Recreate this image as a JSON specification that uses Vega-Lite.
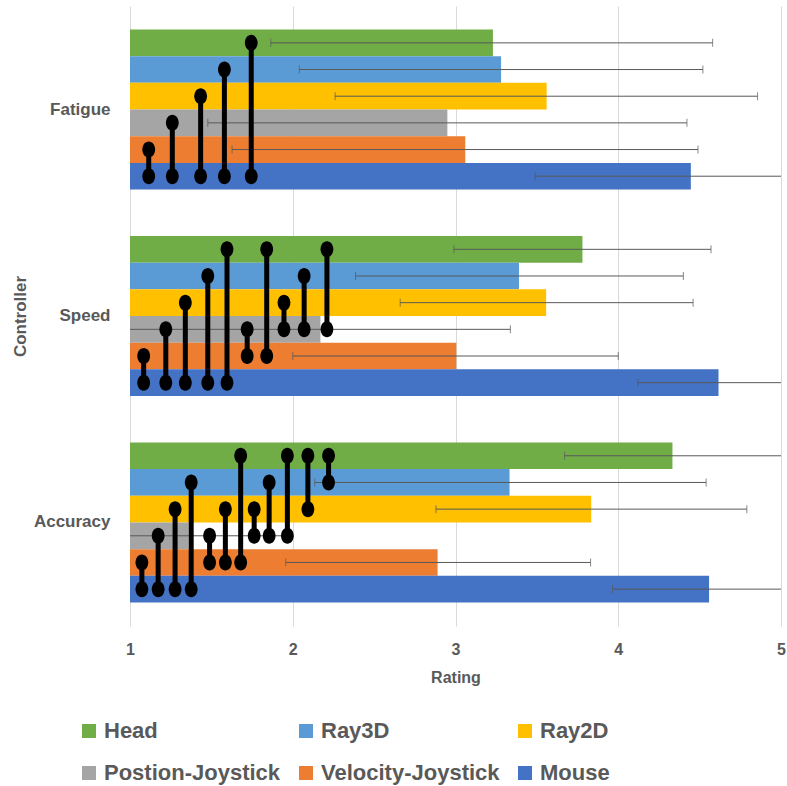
{
  "$schema": "https://vega.github.io/schema/vega-lite/v6.json",
  "autosize": {"type": "none"},
  "width": 651,
  "height": 620,
  "padding": {"left": 130, "top": 6, "right": 6, "bottom": 160},
  "background": "white",
  "config": {
    "view": {"stroke": null},
    "font": "Liberation Sans",
    "axis": {
      "labelFont": "Liberation Sans",
      "titleFont": "Liberation Sans",
      "labelColor": "#595959",
      "titleColor": "#595959",
      "labelFontWeight": "bold",
      "titleFontWeight": "bold",
      "domain": false,
      "ticks": false
    }
  },
  "datasets": {
    "bars": [
      {"Controller": "Fatigue", "Series": "Head", "Rating": 3.23, "Lo": 1.865, "Hi": 4.58},
      {"Controller": "Fatigue", "Series": "Ray3D", "Rating": 3.28, "Lo": 2.04, "Hi": 4.52},
      {"Controller": "Fatigue", "Series": "Ray2D", "Rating": 3.56, "Lo": 2.26, "Hi": 4.856},
      {"Controller": "Fatigue", "Series": "Postion-Joystick", "Rating": 2.95, "Lo": 1.478, "Hi": 4.422},
      {"Controller": "Fatigue", "Series": "Velocity-Joystick", "Rating": 3.06, "Lo": 1.627, "Hi": 4.49},
      {"Controller": "Fatigue", "Series": "Mouse", "Rating": 4.446, "Lo": 3.49, "Hi": 5.4},
      {"Controller": "Speed", "Series": "Head", "Rating": 3.78, "Lo": 2.99, "Hi": 4.57},
      {"Controller": "Speed", "Series": "Ray3D", "Rating": 3.39, "Lo": 2.386, "Hi": 4.4},
      {"Controller": "Speed", "Series": "Ray2D", "Rating": 3.557, "Lo": 2.66, "Hi": 4.46},
      {"Controller": "Speed", "Series": "Postion-Joystick", "Rating": 2.17, "Lo": 0.95, "Hi": 3.337},
      {"Controller": "Speed", "Series": "Velocity-Joystick", "Rating": 3.005, "Lo": 2.0, "Hi": 4.0},
      {"Controller": "Speed", "Series": "Mouse", "Rating": 4.616, "Lo": 4.12, "Hi": 5.1},
      {"Controller": "Accuracy", "Series": "Head", "Rating": 4.333, "Lo": 3.67, "Hi": 5.02},
      {"Controller": "Accuracy", "Series": "Ray3D", "Rating": 3.332, "Lo": 2.135, "Hi": 4.54},
      {"Controller": "Accuracy", "Series": "Ray2D", "Rating": 3.834, "Lo": 2.88, "Hi": 4.79},
      {"Controller": "Accuracy", "Series": "Postion-Joystick", "Rating": 1.36, "Lo": 0.74, "Hi": 1.98},
      {"Controller": "Accuracy", "Series": "Velocity-Joystick", "Rating": 2.89, "Lo": 1.957, "Hi": 3.83},
      {"Controller": "Accuracy", "Series": "Mouse", "Rating": 4.558, "Lo": 3.965, "Hi": 5.15}
    ],
    "brackets": [
      {"Controller": "Fatigue", "Pair": "F1", "Series": "Mouse", "Rating": 1.115},
      {"Controller": "Fatigue", "Pair": "F1", "Series": "Velocity-Joystick", "Rating": 1.115},
      {"Controller": "Fatigue", "Pair": "F2", "Series": "Mouse", "Rating": 1.26},
      {"Controller": "Fatigue", "Pair": "F2", "Series": "Postion-Joystick", "Rating": 1.26},
      {"Controller": "Fatigue", "Pair": "F3", "Series": "Mouse", "Rating": 1.434},
      {"Controller": "Fatigue", "Pair": "F3", "Series": "Ray2D", "Rating": 1.434},
      {"Controller": "Fatigue", "Pair": "F4", "Series": "Mouse", "Rating": 1.58},
      {"Controller": "Fatigue", "Pair": "F4", "Series": "Ray3D", "Rating": 1.58},
      {"Controller": "Fatigue", "Pair": "F5", "Series": "Mouse", "Rating": 1.745},
      {"Controller": "Fatigue", "Pair": "F5", "Series": "Head", "Rating": 1.745},
      {"Controller": "Speed", "Pair": "S1", "Series": "Mouse", "Rating": 1.084},
      {"Controller": "Speed", "Pair": "S1", "Series": "Velocity-Joystick", "Rating": 1.084},
      {"Controller": "Speed", "Pair": "S2", "Series": "Mouse", "Rating": 1.22},
      {"Controller": "Speed", "Pair": "S2", "Series": "Postion-Joystick", "Rating": 1.22},
      {"Controller": "Speed", "Pair": "S3", "Series": "Mouse", "Rating": 1.34},
      {"Controller": "Speed", "Pair": "S3", "Series": "Ray2D", "Rating": 1.34},
      {"Controller": "Speed", "Pair": "S4", "Series": "Mouse", "Rating": 1.478},
      {"Controller": "Speed", "Pair": "S4", "Series": "Ray3D", "Rating": 1.478},
      {"Controller": "Speed", "Pair": "S5", "Series": "Mouse", "Rating": 1.596},
      {"Controller": "Speed", "Pair": "S5", "Series": "Head", "Rating": 1.596},
      {"Controller": "Speed", "Pair": "S6", "Series": "Velocity-Joystick", "Rating": 1.72},
      {"Controller": "Speed", "Pair": "S6", "Series": "Postion-Joystick", "Rating": 1.72},
      {"Controller": "Speed", "Pair": "S7", "Series": "Velocity-Joystick", "Rating": 1.84},
      {"Controller": "Speed", "Pair": "S7", "Series": "Head", "Rating": 1.84},
      {"Controller": "Speed", "Pair": "S8", "Series": "Postion-Joystick", "Rating": 1.946},
      {"Controller": "Speed", "Pair": "S8", "Series": "Ray2D", "Rating": 1.946},
      {"Controller": "Speed", "Pair": "S9", "Series": "Postion-Joystick", "Rating": 2.07},
      {"Controller": "Speed", "Pair": "S9", "Series": "Ray3D", "Rating": 2.07},
      {"Controller": "Speed", "Pair": "S10", "Series": "Postion-Joystick", "Rating": 2.21},
      {"Controller": "Speed", "Pair": "S10", "Series": "Head", "Rating": 2.21},
      {"Controller": "Accuracy", "Pair": "A1", "Series": "Mouse", "Rating": 1.073},
      {"Controller": "Accuracy", "Pair": "A1", "Series": "Velocity-Joystick", "Rating": 1.073},
      {"Controller": "Accuracy", "Pair": "A2", "Series": "Mouse", "Rating": 1.173},
      {"Controller": "Accuracy", "Pair": "A2", "Series": "Postion-Joystick", "Rating": 1.173},
      {"Controller": "Accuracy", "Pair": "A3", "Series": "Mouse", "Rating": 1.277},
      {"Controller": "Accuracy", "Pair": "A3", "Series": "Ray2D", "Rating": 1.277},
      {"Controller": "Accuracy", "Pair": "A4", "Series": "Mouse", "Rating": 1.376},
      {"Controller": "Accuracy", "Pair": "A4", "Series": "Ray3D", "Rating": 1.376},
      {"Controller": "Accuracy", "Pair": "A5", "Series": "Velocity-Joystick", "Rating": 1.489},
      {"Controller": "Accuracy", "Pair": "A5", "Series": "Postion-Joystick", "Rating": 1.489},
      {"Controller": "Accuracy", "Pair": "A6", "Series": "Velocity-Joystick", "Rating": 1.586},
      {"Controller": "Accuracy", "Pair": "A6", "Series": "Ray2D", "Rating": 1.586},
      {"Controller": "Accuracy", "Pair": "A7", "Series": "Velocity-Joystick", "Rating": 1.68},
      {"Controller": "Accuracy", "Pair": "A7", "Series": "Head", "Rating": 1.68},
      {"Controller": "Accuracy", "Pair": "A8", "Series": "Postion-Joystick", "Rating": 1.763},
      {"Controller": "Accuracy", "Pair": "A8", "Series": "Ray2D", "Rating": 1.763},
      {"Controller": "Accuracy", "Pair": "A9", "Series": "Postion-Joystick", "Rating": 1.855},
      {"Controller": "Accuracy", "Pair": "A9", "Series": "Ray3D", "Rating": 1.855},
      {"Controller": "Accuracy", "Pair": "A10", "Series": "Postion-Joystick", "Rating": 1.967},
      {"Controller": "Accuracy", "Pair": "A10", "Series": "Head", "Rating": 1.967},
      {"Controller": "Accuracy", "Pair": "A11", "Series": "Ray2D", "Rating": 2.093},
      {"Controller": "Accuracy", "Pair": "A11", "Series": "Head", "Rating": 2.093},
      {"Controller": "Accuracy", "Pair": "A12", "Series": "Ray3D", "Rating": 2.22},
      {"Controller": "Accuracy", "Pair": "A12", "Series": "Head", "Rating": 2.22}
    ]
  },
  "encoding": {
    "y": {
      "field": "Controller",
      "type": "nominal",
      "scale": {"domain": ["Fatigue", "Speed", "Accuracy"], "paddingInner": 0.225, "paddingOuter": 0.114},
      "axis": {"title": "Controller", "labelFontSize": 17, "titleFontSize": 17, "labelPadding": 20, "titlePadding": 4}
    },
    "yOffset": {
      "field": "Series",
      "type": "nominal",
      "scale": {"domain": ["Head", "Ray3D", "Ray2D", "Postion-Joystick", "Velocity-Joystick", "Mouse"], "paddingInner": 0, "paddingOuter": 0}
    }
  },
  "layer": [
    {
      "data": {"name": "bars"},
      "mark": {"type": "bar", "clip": true},
      "encoding": {
        "x": {
          "field": "Rating",
          "type": "quantitative",
          "scale": {"domain": [1, 5], "zero": false, "nice": false},
          "axis": {"title": "Rating", "values": [1, 2, 3, 4, 5], "format": "d", "labelFlush": false, "grid": true, "gridColor": "#d9d9d9", "labelFontSize": 16, "titleFontSize": 16, "labelPadding": 15, "titlePadding": 12}
        },
        "color": {
          "field": "Series",
          "type": "nominal",
          "scale": {
            "domain": ["Head", "Ray3D", "Ray2D", "Postion-Joystick", "Velocity-Joystick", "Mouse"],
            "range": ["#70AD47", "#5B9BD5", "#FFC000", "#A5A5A5", "#ED7D31", "#4472C4"]
          },
          "legend": {
            "title": null,
            "orient": "none",
            "legendX": -52,
            "legendY": 714,
            "direction": "horizontal",
            "columns": 3,
            "columnPadding": 14,
            "rowPadding": 20,
            "padding": 0,
            "symbolType": "square",
            "symbolSize": 196,
            "symbolStrokeWidth": 0,
            "labelFont": "Liberation Sans",
            "labelFontSize": 22,
            "labelFontWeight": "bold",
            "labelColor": "#595959",
            "labelOffset": 4,
            "labelLimit": 300
          }
        }
      }
    },
    {
      "data": {"name": "bars"},
      "mark": {"type": "rule", "clip": true, "color": "#595959", "strokeWidth": 1},
      "encoding": {
        "x": {"field": "Lo", "type": "quantitative"},
        "x2": {"field": "Hi"}
      }
    },
    {
      "data": {"name": "bars"},
      "mark": {"type": "tick", "clip": true, "color": "#595959", "thickness": 1, "size": 8},
      "encoding": {
        "x": {"field": "Lo", "type": "quantitative"}
      }
    },
    {
      "data": {"name": "bars"},
      "mark": {"type": "tick", "clip": true, "color": "#595959", "thickness": 1, "size": 8},
      "encoding": {
        "x": {"field": "Hi", "type": "quantitative"}
      }
    },
    {
      "data": {"name": "brackets"},
      "mark": {"type": "line", "color": "black", "strokeWidth": 5},
      "encoding": {
        "x": {"field": "Rating", "type": "quantitative"},
        "detail": {"field": "Pair", "type": "nominal"}
      }
    },
    {
      "data": {"name": "brackets"},
      "mark": {"type": "point", "filled": true, "color": "black", "opacity": 1, "shape": "M0,-1A0.8,1,0,1,1,0,1A0.8,1,0,1,1,0,-1Z", "size": 256},
      "encoding": {
        "x": {"field": "Rating", "type": "quantitative"}
      }
    }
  ]
}
